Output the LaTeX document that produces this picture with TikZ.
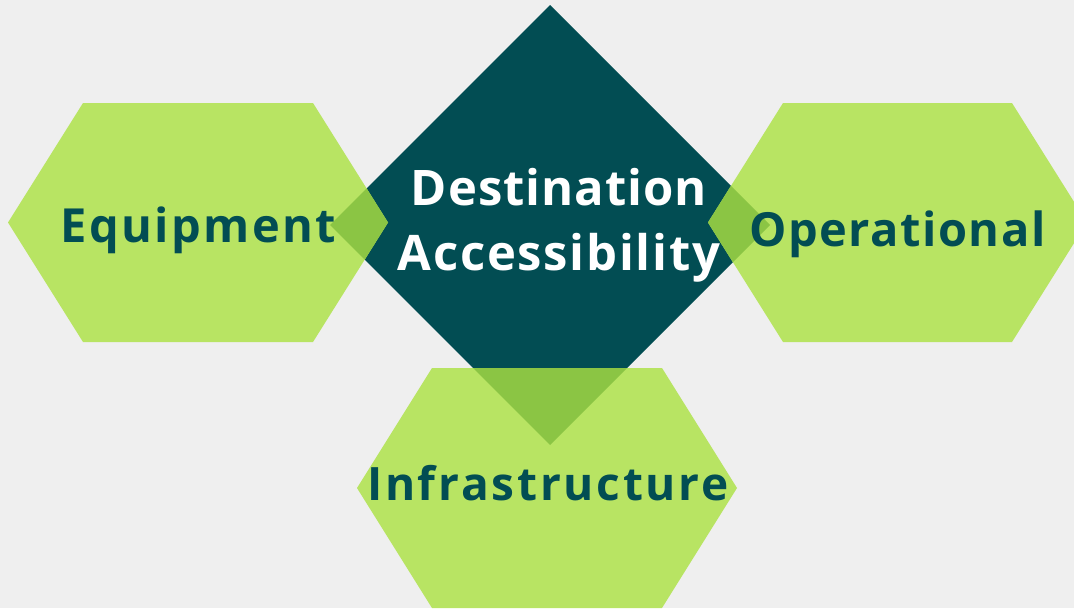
\documentclass[tikz,border=0pt]{standalone}
\usepackage{fontspec}
\setmainfont{Open Sans}[UprightFont=* Bold, Ligatures=NoCommon]
\definecolor{bgc}{HTML}{EFEFEF}
\definecolor{hexc}{HTML}{B8E463}
\definecolor{ovc}{HTML}{8BC544}
\definecolor{teal}{HTML}{024D53}
\tikzset{
  hexfill/.style={fill=hexc},
  lbl/.style={anchor=base, text=teal, inner sep=0pt},
  wlbl/.style={anchor=base, text=white, inner sep=0pt},
}
\begin{document}
\begin{tikzpicture}[x=1pt,y=-1pt]
\useasboundingbox (0,0) rectangle (1074,608);
\fill[bgc] (0,0) rectangle (1074,608);
\def\diam{(550,5) -- (770,225) -- (550,445) -- (330,225) -- cycle}
\def\hexL{(8,222.5) -- (83,103) -- (313,103) -- (388,222.5) -- (313,342) -- (83,342) -- cycle}
\def\hexR{(708,222.5) -- (783,103) -- (1012,103) -- (1087,222.5) -- (1012,342) -- (783,342) -- cycle}
\def\hexB{(357,488) -- (432,368) -- (662,368) -- (737,488) -- (662,608) -- (432,608) -- cycle}
\fill[teal] \diam;
\fill[hexfill] \hexL;
\fill[hexfill] \hexR;
\fill[hexfill] \hexB;
\begin{scope}\clip \hexL; \fill[ovc] \diam; \end{scope}
\begin{scope}\clip \hexR; \fill[ovc] \diam; \end{scope}
\begin{scope}\clip \hexB; \fill[ovc] \diam; \end{scope}
\node[wlbl, font=\fontsize{49}{58}\selectfont\addfontfeatures{LetterSpace=2}] (d1) at (559,205) {Destination};
\node[wlbl, font=\fontsize{49}{58}\selectfont\addfontfeatures{LetterSpace=3.5}] (d2) at (559,270) {Accessibility};
\node[lbl, font=\fontsize{47}{56}\selectfont\addfontfeatures{LetterSpace=5}] (eq) at (198.5,242) {Equipment};
\node[lbl, font=\fontsize{47}{56}\selectfont\addfontfeatures{LetterSpace=3.2}] (op) at (897.5,246) {Operational};
\node[lbl, font=\fontsize{46}{54}\selectfont\addfontfeatures{LetterSpace=6}] (inf) at (548,500) {Infrastructure};
\end{tikzpicture}
\end{document}
